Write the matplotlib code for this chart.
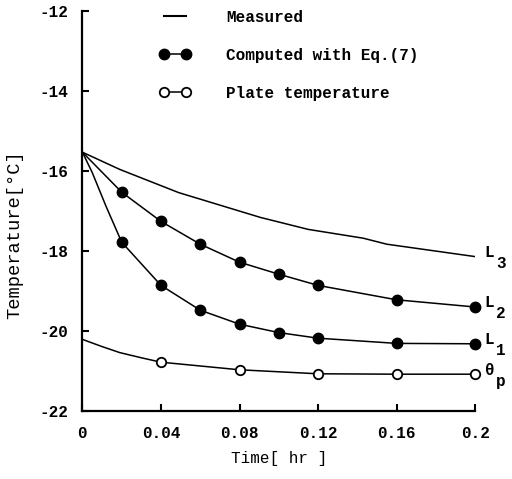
import matplotlib
matplotlib.use('Agg')
import matplotlib.pyplot as plt
from matplotlib.lines import Line2D

plt.rcParams['font.family'] = ['Liberation Mono', 'DejaVu Sans Mono']
plt.rcParams['font.weight'] = 'bold'

######################################################################
## data
# measured curve L3
l3_t = [0.0, 0.019, 0.049, 0.0906, 0.115, 0.143, 0.155, 0.2]
l3_T = [-15.53, -15.96, -16.54, -17.16, -17.46, -17.68, -17.83, -18.14]

# computed points (Eq. 7)
l2_t = [0.02, 0.04, 0.06, 0.08, 0.10, 0.12, 0.16, 0.2]
l2_T = [-16.53, -17.26, -17.83, -18.28, -18.58, -18.86, -19.22, -19.40]
l1_t = [0.02, 0.04, 0.06, 0.08, 0.10, 0.12, 0.16, 0.2]
l1_T = [-17.78, -18.86, -19.48, -19.83, -20.04, -20.18, -20.31, -20.32]

# measured curve between start and first computed point
l2_head_t = [0.0]
l2_head_T = [-15.53]
l1_head_t = [0.0, 0.005, 0.012, 0.016]
l1_head_T = [-15.53, -16.04, -16.88, -17.33]

# plate temperature
plate_t = [0.04, 0.08, 0.12, 0.16, 0.2]
plate_T = [-20.78, -20.97, -21.07, -21.08, -21.08]
plate_head_t = [0.0, 0.01, 0.019, 0.03]
plate_head_T = [-20.21, -20.39, -20.54, -20.67]

xticks = [0, 0.04, 0.08, 0.12, 0.16, 0.2]
xticklabels = ['0', '0.04', '0.08', '0.12', '0.16', '0.2']
yticks = [-12, -14, -16, -18, -20, -22]

######################################################################
## plot
fig = plt.figure(figsize=(5.12, 4.79), dpi=100)
ax = fig.add_axes([0.161, 0.142, 0.767, 0.835])

lw = 1.1
ax.plot(l3_t, l3_T, color='black', lw=lw)

ax.plot(l2_head_t + l2_t, l2_head_T + l2_T, color='black', lw=lw)
ax.plot(l2_t, l2_T, 'o', color='black', ms=7.5, clip_on=False)
ax.plot(l1_head_t + l1_t, l1_head_T + l1_T, color='black', lw=lw)
ax.plot(l1_t, l1_T, 'o', color='black', ms=7.5, clip_on=False)

ax.plot(plate_head_t + plate_t, plate_head_T + plate_T, color='black', lw=lw)
ax.plot(plate_t, plate_T, 'o', mfc='white', mec='black', mew=1.3, ms=6.8,
        clip_on=False, zorder=5)

## curve names at right end
fs = 11.5
for yv, main, sub in [(l3_T[-1], 'L', '3'), (l2_T[-1], 'L', '2'),
                      (l1_T[-1], 'L', '1'), (plate_T[-1], 'θ', 'p')]:
    ax.annotate(main, (0.2, yv), xytext=(7, 3), textcoords='offset points',
                ha='left', va='center', fontsize=fs, annotation_clip=False)
    ax.annotate(sub, (0.2, yv), xytext=(15, -5), textcoords='offset points',
                ha='left', va='center', fontsize=fs, annotation_clip=False)

ax.set_xlim(0, 0.2)
ax.set_ylim(-22, -12)
ax.set_xticks(xticks)
ax.set_xticklabels(xticklabels)
ax.set_yticks(yticks)
ax.set_yticklabels(['%d' % v for v in yticks])
ax.tick_params(axis='both', direction='in', length=5, width=1.5,
               labelsize=fs)
ax.tick_params(axis='x', pad=11)
ax.tick_params(axis='y', pad=10)

for side in ['top', 'right']:
    ax.spines[side].set_visible(False)
for side in ['left', 'bottom']:
    ax.spines[side].set_linewidth(1.6)

ax.set_xlabel('Time[ hr ]', fontsize=fs, labelpad=7)
ax.set_ylabel('Temperature[°C]', fontsize=13.5)
ax.yaxis.set_label_coords(-0.15, 0.44)

## legend
handles = [
    Line2D([], [], color='black', lw=1.5),
    Line2D([], [], color='black', lw=lw, marker='o', ms=7.5),
    Line2D([], [], color='black', lw=lw, marker='o', ms=6.8, mfc='white',
           mew=1.3),
]
labels = ['Measured', 'Computed with Eq.(7)', 'Plate temperature']
fig.legend(handles, labels, loc='upper left', bbox_to_anchor=(0.292, 1.0),
           frameon=False, numpoints=2, handlelength=2.0, handletextpad=2.2,
           labelspacing=1.45, borderpad=0.1, fontsize=fs)

fig.savefig('out.png', dpi=100)
